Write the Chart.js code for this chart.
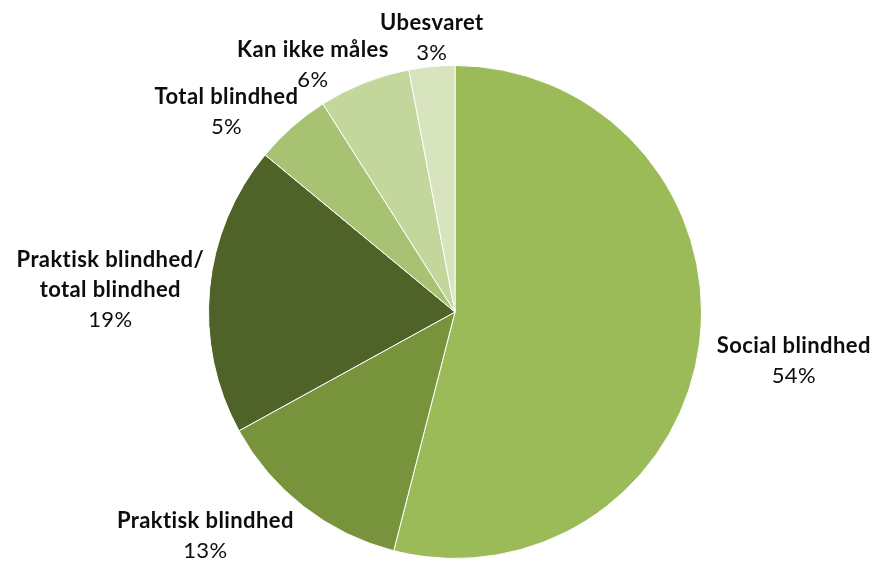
<!DOCTYPE html>
<html>
<head>
<meta charset="utf-8">
<script src="https://cdn.jsdelivr.net/npm/chart.js@4.4.1/dist/chart.umd.min.js"></script>
<style>
  html, body { margin: 0; padding: 0; background: #fff; }
  #wrap { width: 874px; height: 561px; }
</style>
</head>
<body>
<div id="wrap"><canvas id="pieChart"></canvas></div>
<script>
// data
var categories = ['Social blindhed', 'Praktisk blindhed', 'Praktisk blindhed/\ntotal blindhed', 'Total blindhed', 'Kan ikke måles', 'Ubesvaret'];
var values = [54, 13, 19, 5, 6, 3];

var colors = ['#9bbb59', '#77933c', '#4f6228', '#a7c273', '#c3d69b', '#d7e4bd'];
// small nudges so labels sit where Excel put them
var labelNudge = [[6, 13], [-37, -4], [6, 6], [-10, 16], [-19, 21], [6, 13]];

var labelPlugin = {
    id: 'outsideLabels',
    afterDatasetsDraw: function (chart) {
        var ctx = chart.ctx;
        var meta = chart.getDatasetMeta(0);
        var lineH = 30;
        meta.data.forEach(function (arc, i) {
            var p = arc.getProps(['x', 'y', 'startAngle', 'endAngle', 'outerRadius'], true);
            var mid = (p.startAngle + p.endAngle) / 2;
            var dx = Math.cos(mid), dy = Math.sin(mid);
            var lines = categories[i].split('\n');
            var pct = values[i] + '%';
            ctx.save();
            ctx.font = 'bold 22px Lato';
            ctx.letterSpacing = '0.4px';
            var w = 0;
            lines.forEach(function (l) { w = Math.max(w, ctx.measureText(l).width); });
            var h = (lines.length + 1) * lineH;
            var ax = p.x + (p.outerRadius + 12) * dx;
            var ay = p.y + (p.outerRadius + 12) * dy;
            var cx = ax + dx * w / 2 + labelNudge[i][0];
            var cy = ay + dy * h / 2 + labelNudge[i][1];
            var top = cy - h / 2 + lineH / 2;
            ctx.textAlign = 'center';
            ctx.textBaseline = 'middle';
            ctx.fillStyle = '#0d0d0d';
            lines.forEach(function (l, k) {
                ctx.fillText(l, cx, top + k * lineH);
            });
            ctx.font = '22px Lato';
            ctx.fillText(pct, cx, top + lines.length * lineH);
            ctx.restore();
        });
    }
};

var ctx = document.getElementById('pieChart').getContext('2d');
var chart = new Chart(ctx, {
    type: 'pie',
    data: {
        labels: categories,
        datasets: [{
            data: values,
            backgroundColor: colors,
            borderColor: '#ffffff',
            borderWidth: 1
        }]
    },
    options: {
        responsive: true,
        maintainAspectRatio: false,
        animation: false,
        layout: {
            padding: { left: 208, right: 172, top: 65, bottom: 2 }
        },
        plugins: {
            legend: { display: false },
            tooltip: { enabled: false }
        }
    },
    plugins: [labelPlugin]
});
</script>
</body>
</html>
